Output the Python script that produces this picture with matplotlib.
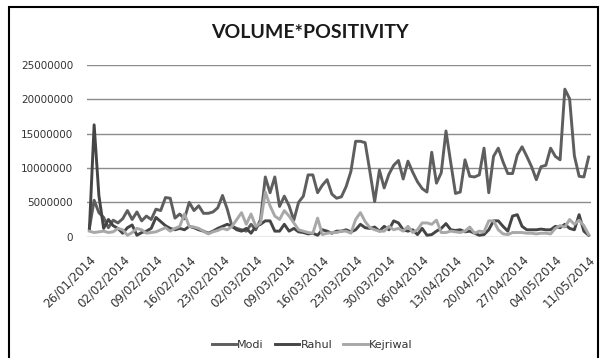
import matplotlib
matplotlib.use("Agg")
import matplotlib.pyplot as plt
import pandas as pd
from matplotlib.patches import Rectangle

# daily dates 26/01/2014 .. 11/05/2014
dates = pd.date_range("2014-01-26", "2014-05-11", freq="D")

# values in millions
modi = [1.2, 5.3, 3.5, 2.8, 1.3, 2.4, 2.0, 2.6, 3.8, 2.5,
        3.6, 2.3, 3.0, 2.5, 4.0, 3.8, 5.7, 5.6, 2.7, 3.3,
        2.6, 5.0, 3.8, 4.5, 3.4, 3.4, 3.6, 4.2, 6.0, 4.0,
        1.5, 1.2, 1.0, 0.8, 1.8, 1.0, 2.5, 8.7, 6.4, 8.7,
        4.4, 5.9, 4.5, 2.4, 5.0, 5.9, 9.0, 9.0, 6.4, 7.5,
        8.3, 6.2, 5.6, 5.8, 7.3, 9.5, 13.9, 13.9, 13.7, 9.5,
        5.1, 9.7, 7.1, 9.1, 10.4, 11.1, 8.4, 11.0, 9.4, 8.0,
        7.0, 6.5, 12.3, 7.8, 9.3, 15.4, 10.8, 6.3, 6.5, 11.2,
        8.8, 8.7, 9.0, 12.9, 6.4, 11.7, 12.9, 10.9, 9.2, 9.2,
        11.9, 13.1, 11.7, 10.2, 8.3, 10.2, 10.4, 12.9, 11.7, 11.2,
        21.5, 20.1, 11.8, 8.8, 8.7, 11.6]
rahul = [1.0, 16.3, 6.0, 1.2, 2.5, 1.6, 1.2, 0.5, 1.3, 1.7,
         0.2, 0.6, 0.8, 1.2, 2.8, 2.2, 1.6, 1.2, 1.0, 1.2,
         1.0, 1.5, 1.3, 1.0, 0.8, 0.5, 0.8, 1.2, 1.5, 1.8,
         1.5, 1.0, 0.8, 1.2, 0.5, 1.5, 1.8, 2.3, 2.3, 0.8,
         0.8, 1.8, 0.8, 1.2, 0.7, 0.6, 0.4, 0.5, 0.2, 1.0,
         0.8, 0.5, 0.8, 0.8, 1.0, 0.7, 1.0, 1.8, 1.3, 1.2,
         1.4, 0.8, 1.5, 1.0, 2.3, 2.0, 1.0, 0.8, 1.0, 0.3,
         1.2, 0.2, 0.3, 0.8, 1.2, 1.9, 1.0, 0.9, 1.0, 0.7,
         0.8, 0.5, 0.2, 0.3, 1.0, 2.3, 2.3, 1.5, 0.8, 3.0,
         3.2, 1.5, 1.0, 1.0, 1.0, 1.1, 1.0, 1.0, 1.5, 1.3,
         1.8, 1.2, 1.0, 3.2, 0.8, 0.2]
kejriwal = [0.8, 0.6, 0.7, 0.8, 0.6, 0.7, 1.2, 1.0, 0.2, 0.6,
            1.2, 1.0, 0.5, 0.6, 0.7, 1.0, 1.3, 0.8, 1.2, 1.5,
            3.3, 1.5, 1.4, 1.2, 0.8, 0.4, 0.7, 0.9, 1.2, 1.0,
            1.5, 2.5, 3.5, 1.8, 3.3, 1.5, 2.0, 6.5, 4.5, 3.0,
            2.5, 3.8, 3.0, 2.0, 1.0, 0.8, 0.6, 0.5, 2.7, 0.3,
            0.5, 0.6, 0.6, 0.8, 0.8, 0.5, 2.5, 3.5, 2.2, 1.3,
            1.0, 0.8, 0.8, 1.5, 1.0, 1.2, 0.8, 1.5, 0.6, 1.0,
            2.0, 2.0, 1.8, 2.4, 0.6, 0.6, 0.8, 0.7, 0.6, 0.8,
            1.4, 0.5, 0.8, 0.7, 2.3, 2.3, 1.0, 0.4, 0.3, 0.6,
            0.6, 0.6, 0.5, 0.5, 0.4, 0.5, 0.5, 0.4, 1.2, 1.6,
            1.4, 2.5, 1.8, 2.4, 1.6, 0.3]

series_names = ["Modi", "Rahul", "Kejriwal"]
series_colors = ["#5e5e5e", "#454545", "#a8a8a8"]

fig = plt.figure(figsize=(6, 3.58), dpi=100)
ax = fig.add_axes([0.145, 0.339, 0.84, 0.479])

x = list(range(len(dates)))
for vals, name, col in zip([modi, rahul, kejriwal], series_names, series_colors):
    ax.plot(x, [v * 1e6 for v in vals], color=col, lw=2.1, label=name,
            solid_joinstyle="round")

ax.set_ylim(0, 25e6)
ax.set_xlim(-0.5, len(dates) - 0.5)
ax.set_yticks(range(0, 25000001, 5000000))
ax.set_yticklabels([str(v) for v in range(0, 25000001, 5000000)],
                   fontsize=7.5, color="#333333")
ax.yaxis.grid(True, color="#8c8c8c", lw=1.0)
ax.set_axisbelow(True)

tick_pos = x[::7]
ax.set_xticks(tick_pos)
ax.set_xticklabels([dates[i].strftime("%d/%m/%Y") for i in tick_pos],
                   rotation=45, ha="right", rotation_mode="anchor",
                   fontsize=8.5, color="#333333")
ax.tick_params(axis="x", length=0, pad=12)
ax.tick_params(axis="y", length=0, pad=10)
for s in ax.spines.values():
    s.set_visible(False)

fig.text(0.517, 0.91, "VOLUME*POSITIVITY", ha="center", va="center",
         fontsize=14, fontweight="bold", family="Lato", color="#1a1a1a")

fig.legend(loc="center", bbox_to_anchor=(0.52, 0.036), ncol=3, frameon=False,
           fontsize=8, handlelength=2.2, handletextpad=0.1, columnspacing=1.0,
           labelcolor="#333333")

# outer chart border
fig.patches.append(Rectangle((9 / 600, -0.05), 589 / 600, 1 - 7 / 358 + 0.05,
                             transform=fig.transFigure, fill=False,
                             edgecolor="black", lw=1.5))

fig.savefig("out.png", dpi=100)
